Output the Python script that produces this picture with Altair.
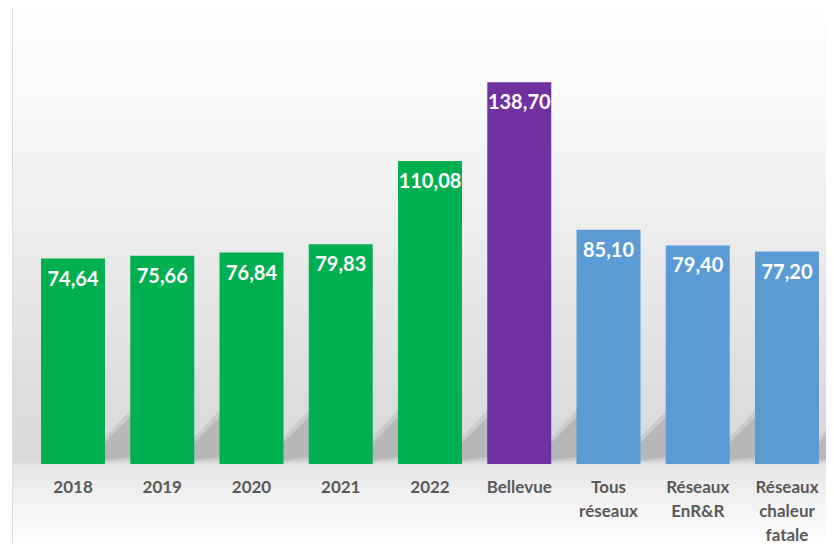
import altair as alt
import pandas as pd

categories = ["2018", "2019", "2020", "2021", "2022", "Bellevue",
              "Tous réseaux", "Réseaux EnR&R", "Réseaux chaleur fatale"]
values = [74.64, 75.66, 76.84, 79.83, 110.08, 138.70, 85.10, 79.40, 77.20]
colors = ["#00b050"] * 5 + ["#7030a0"] + ["#5b9bd5"] * 3

labels = [f"{v:.2f}".replace(".", ",") for v in values]
df = pd.DataFrame({"cat": categories, "value": values, "color": colors, "label": labels})

W, H = 806, 456

xscale = alt.Scale(domain=categories, paddingInner=0.283, paddingOuter=0.157, align=0.75)
yscale = alt.Scale(domain=[0, 165.7])

bg = alt.Chart(alt.Data(values=[{"a": 1}])).mark_rect(
    color=alt.Gradient(
        gradient="linear", x1=0, y1=0, x2=0, y2=1,
        stops=[
            alt.GradientStop(offset=0.0, color="#fdfdfd"),
            alt.GradientStop(offset=0.17, color="#f9f9f9"),
            alt.GradientStop(offset=0.45, color="#ebebeb"),
            alt.GradientStop(offset=0.73, color="#dcdcdc"),
            alt.GradientStop(offset=0.846, color="#d9d9d9"),
            alt.GradientStop(offset=0.852, color="#e6e6e6"),
            alt.GradientStop(offset=0.92, color="#f3f3f3"),
            alt.GradientStop(offset=1.0, color="#fefefe"),
        ],
    )
).encode(x=alt.value(-8), x2=alt.value(W), y=alt.value(-1), y2=alt.value(537))

top_rule = alt.Chart(alt.Data(values=[{"a": 1}])).mark_rule(color="#d6d6d6", strokeWidth=1).encode(
    x=alt.value(-8), x2=alt.value(W), y=alt.value(-0.5))
left_rule = alt.Chart(alt.Data(values=[{"a": 1}])).mark_rule(color="#dedede", strokeWidth=1).encode(
    x=alt.value(-7.5), y=alt.value(-1), y2=alt.value(537))

base = alt.Chart(df).encode(
    x=alt.X("cat:N", scale=xscale, sort=categories,
            axis=alt.Axis(title=None, domain=False, ticks=False, labelAngle=0, zindex=1,
                          labelFont="Lato", labelFontSize=17, labelFontWeight="bold",
                          labelColor="#595959", labelPadding=15, labelLineHeight=24,
                          labelLimit=200, labelExpr="split(datum.label, ' ')")),
)

shadow_outer = base.mark_point(
    shape="M -1.6 0.4 L 1.6 -3.0 L 1.6 1.6 L -1.6 1.8 Z",
    filled=True, size=625, color="#c4c4c4", opacity=0.7, strokeWidth=0, xOffset=44.6
).encode(y=alt.value(432))
shadow_inner = base.mark_point(
    shape="M -1.6 0.8 L 1.6 -2.4 L 1.6 1.3 L -1.6 1.7 Z",
    filled=True, size=625, color="#b2b2b2", opacity=0.8, strokeWidth=0, xOffset=44.6
).encode(y=alt.value(432))

bars = base.mark_bar().encode(
    y=alt.Y("value:Q", scale=yscale, axis=None),
    color=alt.Color("color:N", scale=None),
)

text = base.mark_text(font="Lato", fontSize=20, fontWeight="bold", color="white",
                      baseline="middle", dy=21).encode(
    y=alt.Y("value:Q", scale=yscale),
    text="label:N",
)

chart = alt.layer(bg, top_rule, left_rule, shadow_outer, shadow_inner, bars, text).properties(
    width=W, height=H,
    autosize=alt.AutoSizeParams(type="none"),
    padding={"left": 12, "top": 0, "right": 0, "bottom": 81},
    background="white",
).configure_view(stroke=None)

chart.save("out.html", embed_options={"renderer": "svg", "actions": False})
